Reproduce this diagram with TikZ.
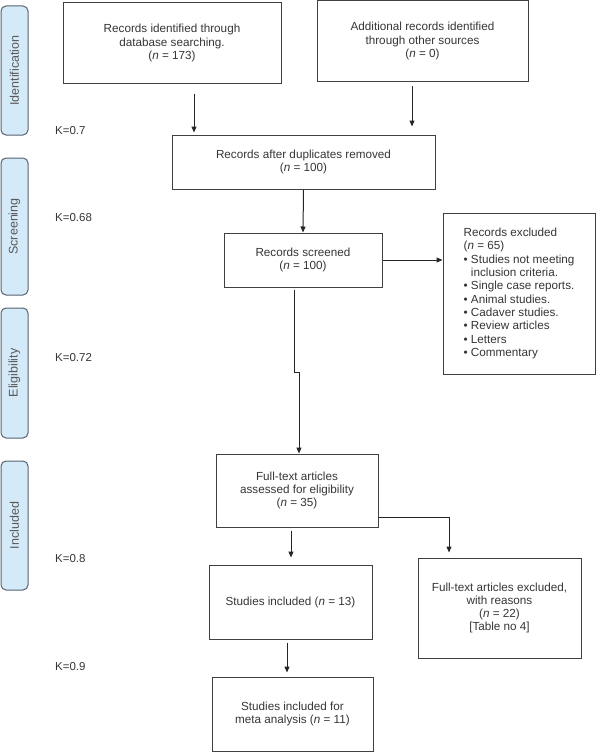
\documentclass[tikz,border=0pt]{standalone}
\usepackage{fontspec}
\setmainfont{Liberation Sans}
\usetikzlibrary{positioning,arrows.meta}
\definecolor{phasefill}{HTML}{D4EAF8}
\definecolor{phaseline}{HTML}{56626E}
\definecolor{boxline}{HTML}{404040}
\definecolor{inktext}{HTML}{363636}
\tikzset{
  flowarrow/.style={-{Triangle[length=6pt,width=5pt]}, line width=1pt, black!85},
  prismabox/.style={draw=boxline, line width=1pt, fill=white, align=center, inner sep=2pt, text=inktext},
  phasebox/.style={draw=phaseline, line width=1pt, fill=phasefill, rounded corners=5pt, minimum width=27pt, text=black!65, font=\fontsize{12.5}{14}\selectfont},
  kappa/.style={anchor=west, inner sep=0pt, text=inktext, font=\fontsize{11.5}{13}\selectfont}
}

\begin{document}
\begin{tikzpicture}[x=1pt, y=-1pt, every node/.style={font=\fontsize{11.7}{13.3}\selectfont}]
  \useasboundingbox (0,0) rectangle (606,752);
  % phases
  \node[phasebox, minimum height=129pt] (pid) at (14.5,70.5) {\rotatebox{90}{Identification}};
  \node[phasebox, minimum height=137pt] (pscr) at (14.5,226.5) {\rotatebox{90}{Screening}};
  \node[phasebox, minimum height=130pt] (pel) at (14.5,373) {\rotatebox{90}{Eligibility}};
  \node[phasebox, minimum height=129pt] (pinc) at (14.5,525.5) {\rotatebox{90}{Included}};
  % agreement
  \node[kappa] (k1) at (55,131) {K=0.7};
  \node[kappa] (k2) at (55,218) {K=0.68};
  \node[kappa] (k3) at (55,358) {K=0.72};
  \node[kappa] (k4) at (55,559) {K=0.8};
  \node[kappa] (k5) at (55,667) {K=0.9};
  % boxes
  \node[prismabox, minimum width=218pt, minimum height=80pt] (db) at (172,43) {Records identified through\\database searching.\\(\textit{n} = 173)};
  \node[prismabox, minimum width=211pt, minimum height=81pt] (oth) at (422.5,41) {Additional records identified\\through other sources\\(\textit{n} = 0)};
  \node[prismabox, minimum width=263pt, minimum height=54pt] (dup) at (303.5,162) {Records after duplicates removed\\(\textit{n} = 100)};
  \node[prismabox, minimum width=158pt, minimum height=54pt] (scr) at (303,260) {Records screened\\(\textit{n} = 100)};
  \node[prismabox, minimum width=152pt, minimum height=161pt, align=left] (excl) at (519,293.5) {Records excluded\\(\textit{n} = 65)\\\textbullet{} Studies not meeting\\\phantom{\textbullet{} }inclusion criteria.\\\textbullet{} Single case reports.\\\textbullet{} Animal studies.\\\textbullet{} Cadaver studies.\\\textbullet{} Review articles\\\textbullet{} Letters\\\textbullet{} Commentary};
  \node[prismabox, minimum width=162pt, minimum height=73pt] (ft) at (297,490.5) {Full-text articles\\assessed for eligibility\\(\textit{n} = 35)};
  \node[prismabox, minimum width=163pt, minimum height=100pt] (ftx) at (499.5,608) {Full-text articles excluded,\\with reasons\\(\textit{n} = 22)\\{[}Table no 4{]}};
  \node[prismabox, minimum width=163pt, minimum height=74pt] (inc) at (290.5,602) {Studies included (\textit{n} = 13)};
  \node[prismabox, minimum width=161pt, minimum height=74pt] (meta) at (292.5,714) {Studies included for\\meta analysis (\textit{n} = 11)};
  % arrows
  \draw[flowarrow, shorten <=10pt, shorten >=2pt] ([xshift=22pt]db.south) -- ([xshift=22pt]db.south |- dup.north);
  \draw[flowarrow, shorten <=4pt, shorten >=8pt] ([xshift=-10.5pt]oth.south) -- ([xshift=-10.5pt]oth.south |- dup.north);
  \draw[flowarrow] (dup.south) -- (scr.north);
  \draw[flowarrow] (scr.east) -- (scr.east -| excl.west);
  \draw[flowarrow, shorten <=2pt] ([xshift=-9pt]scr.south) -- ++(0,85) -| ([xshift=2pt]ft.north);
  \draw[flowarrow, shorten <=3pt, shorten >=7pt] ([xshift=-6pt]ft.south) -- ([xshift=-6pt]ft.south |- inc.north);
  \draw[flowarrow, shorten >=5pt] ([yshift=-26.5pt]ft.east) -| ([xshift=-50.5pt]ftx.north);
  \draw[flowarrow, shorten <=3pt, shorten >=4pt] ([xshift=-3.5pt]inc.south) -- ([xshift=-3.5pt]inc.south |- meta.north);
\end{tikzpicture}
\end{document}
